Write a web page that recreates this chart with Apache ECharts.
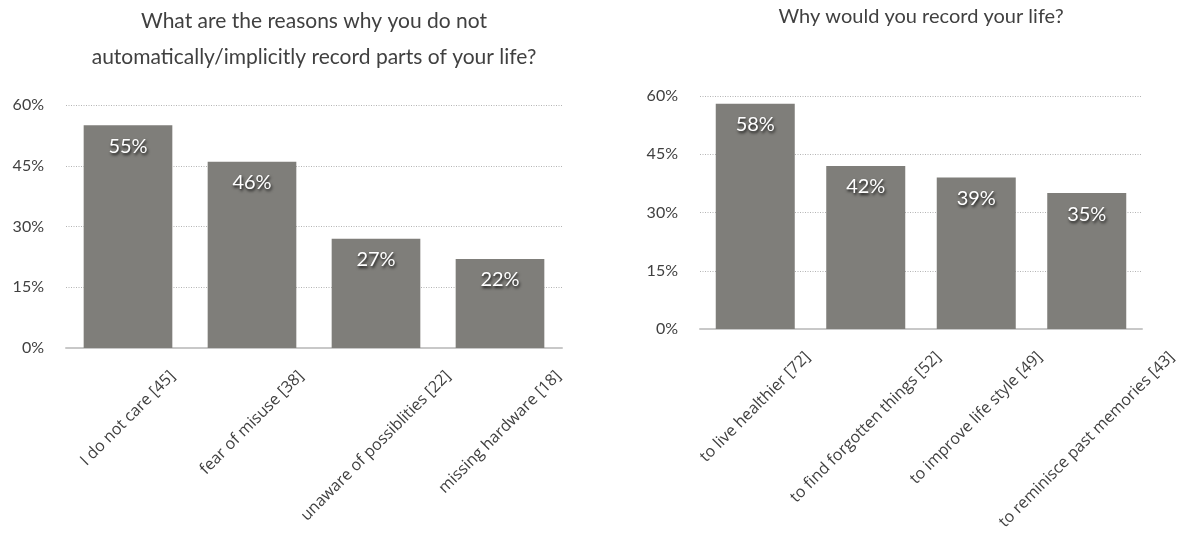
<!DOCTYPE html>
<html>
<head>
<meta charset="utf-8">
<script src="https://cdn.jsdelivr.net/npm/echarts@6/dist/echarts.min.js"></script>
<style>
  html, body { margin: 0; padding: 0; background: #ffffff; }
  #chart { width: 1191px; height: 539px; }
</style>
</head>
<body>
<div id="chart"></div>
<script>
// Survey: reasons for not recording life automatically (n = 82)
const reasonsNotCategories = [
  'I do not care [45]',
  'fear of misuse [38]',
  'unaware of possiblities [22]',
  'missing hardware [18]'
];
const reasonsNotValues = [55, 46, 27, 22];

// Survey: motivations for recording life (n = 124)
const reasonsWhyCategories = [
  'to live healthier [72]',
  'to find forgotten things [52]',
  'to improve life style [49]',
  'to reminisce past memories [43]'
];
const reasonsWhyValues = [58, 42, 39, 35];

const titleLeft = 'What are the reasons why you do not\nautomatically/implicitly record parts of your life?';
const titleRight = 'Why would you record your life?';

const FONT = 'Lato';
const AXIS_FONT_FAMILY = '"Open Sans"';
const TEXT = '#404040';
const BAR = '#7f7e7a';

// Slanted category labels are centred horizontally under their bar,
// with their upper end a fixed distance below the axis line.
const AXIS_FONT = 16;
const LABEL_MARGIN = 6;
const LABEL_GAP = 20;
const LABEL_H = 16;
const measureCtx = document.createElement('canvas').getContext('2d');
function textWidth(t) {
  measureCtx.font = AXIS_FONT + 'px ' + AXIS_FONT_FAMILY;
  return measureCtx.measureText(t).width;
}
function slantedLabel(labels) {
  const rich = {};
  labels.forEach(function (t, i) {
    const L = textWidth(t);
    const drop = LABEL_GAP + Math.SQRT1_2 * (L + LABEL_H) / 2 - LABEL_MARGIN;
    const p = Math.max(0, drop * Math.SQRT2);
    rich['s' + i] = {
      fontFamily: AXIS_FONT_FAMILY,
      fontSize: AXIS_FONT,
      color: TEXT,
      padding: [p, p, 0, 0]
    };
  });
  return {
    interval: 0,
    rotate: 45,
    align: 'center',
    verticalAlign: 'middle',
    margin: LABEL_MARGIN,
    fontFamily: AXIS_FONT_FAMILY,
    fontSize: AXIS_FONT,
    color: TEXT,
    rich: rich,
    formatter: function (value, index) {
      return '{s' + index + '|' + value + '}';
    }
  };
}

function xAxisFor(gridIndex, labels) {
  return {
    type: 'category',
    gridIndex: gridIndex,
    data: labels,
    axisLine: { show: true, lineStyle: { color: '#c8c8c8', width: 2 } },
    axisTick: { show: false },
    axisLabel: slantedLabel(labels),
    splitLine: { show: false }
  };
}

function yAxisFor(gridIndex) {
  return {
    type: 'value',
    gridIndex: gridIndex,
    min: 0,
    max: 60,
    interval: 15,
    axisLine: { show: false },
    axisTick: { show: false },
    axisLabel: {
      formatter: '{value}%',
      margin: 22,
      fontFamily: FONT,
      fontSize: 16,
      color: TEXT
    },
    splitLine: { show: true, lineStyle: { color: '#b4b4b4', type: [1, 1.5], width: 1 } }
  };
}

function barSeries(axisIndex, values) {
  return {
    type: 'bar',
    xAxisIndex: axisIndex,
    yAxisIndex: axisIndex,
    data: values,
    barCategoryGap: '28.5%',
    itemStyle: { color: BAR },
    label: {
      show: true,
      position: 'insideTop',
      distance: 11,
      formatter: '{c}%',
      color: '#ffffff',
      fontFamily: FONT,
      fontSize: 20,
      textShadowColor: 'rgba(0,0,0,0.85)',
      textShadowBlur: 3,
      textShadowOffsetX: 1,
      textShadowOffsetY: 2
    },
    emphasis: { disabled: true }
  };
}

const chart = echarts.init(document.getElementById('chart'), null, { renderer: 'canvas' });
chart.setOption({
  animation: false,
  backgroundColor: '#ffffff',
  title: [
    {
      text: titleLeft,
      left: 314,
      top: 3,
      padding: 0,
      textAlign: 'center',
      textStyle: { fontFamily: FONT, fontSize: 21, fontWeight: 'normal', color: TEXT, lineHeight: 36 }
    },
    {
      text: titleRight,
      left: 921,
      top: 5,
      padding: 0,
      textAlign: 'center',
      textStyle: { fontFamily: FONT, fontSize: 20, fontWeight: 'normal', color: TEXT, lineHeight: 24 }
    }
  ],
  grid: [
    { left: 66, right: 629, top: 105, bottom: 191, containLabel: false, outerBoundsMode: 'none' },
    { left: 700, right: 49, top: 96, bottom: 210, containLabel: false, outerBoundsMode: 'none' }
  ],
  xAxis: [xAxisFor(0, reasonsNotCategories), xAxisFor(1, reasonsWhyCategories)],
  yAxis: [yAxisFor(0), yAxisFor(1)],
  series: [barSeries(0, reasonsNotValues), barSeries(1, reasonsWhyValues)]
});
</script>
</body>
</html>
